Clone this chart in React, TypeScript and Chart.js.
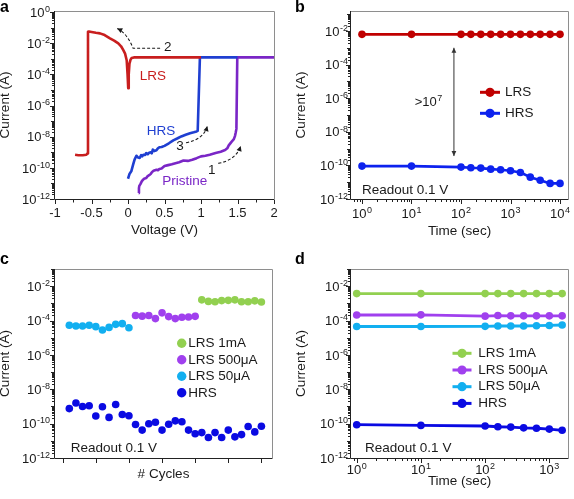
import React, { useEffect, useRef } from 'react';
import { Chart, registerables } from 'chart.js';

Chart.register(...registerables);

const FONT = "'Liberation Sans', Arial, Helvetica, sans-serif";
Chart.defaults.font.family = FONT;

// ---------------- Panel a : I–V sweeps ----------------
const lrsVoltage = [-0.725, -0.68, -0.62, -0.57, -0.555, -0.548, -0.535, -0.5, -0.44, -0.384, -0.32, -0.247, -0.19, -0.133, -0.095, -0.064, -0.04, -0.018, -0.006, 0.003, 0.01, 0.02, 0.035, 0.05, 0.08, 1.0];
const lrsCurrent = [7e-10, 6.5e-10, 6.5e-10, 7e-10, 8.5e-10, 5.5e-2, 5.8e-2, 5.4e-2, 4.8e-2, 4.4e-2, 3.4e-2, 2.1e-2, 1.5e-2, 1e-2, 6.5e-3, 3.7e-3, 2.2e-3, 8.3e-4, 1e-4, 1.3e-5, 1e-4, 5e-4, 9e-4, 1.15e-3, 1.25e-3, 1.25e-3];
const hrsVoltage = [0, 0.02, 0.045, 0.07, 0.09, 0.115, 0.14, 0.16, 0.18, 0.195, 0.21, 0.235, 0.25, 0.27, 0.29, 0.31, 0.325, 0.34, 0.36, 0.39, 0.41, 0.43, 0.46, 0.5, 0.56, 0.62, 0.68, 0.73, 0.79, 0.85, 0.9, 0.94, 0.955, 0.985, 1.5];
const hrsCurrent = [2e-11, 4e-11, 6e-11, 1.6e-10, 3.4e-10, 6e-10, 4.6e-10, 4.3e-10, 6.5e-10, 5.5e-10, 7e-10, 6.8e-10, 9e-10, 7.5e-10, 9.5e-10, 1e-9, 8.5e-10, 1.5e-9, 1.2e-9, 1.35e-9, 1.8e-9, 2.1e-9, 2.2e-9, 2.6e-9, 3.8e-9, 5.9e-9, 8e-9, 1.05e-8, 1.35e-8, 1.7e-8, 1.95e-8, 2.2e-8, 2.4e-8, 1.25e-3, 1.25e-3];
const pristineVoltage = [0.146, 0.15, 0.155, 0.17, 0.19, 0.205, 0.22, 0.25, 0.27, 0.29, 0.31, 0.33, 0.35, 0.37, 0.39, 0.41, 0.43, 0.46, 0.5, 0.55, 0.6, 0.65, 0.7, 0.76, 0.82, 0.88, 0.94, 1.0, 1.06, 1.12, 1.2, 1.27, 1.33, 1.36, 1.38, 1.41, 1.43, 1.45, 1.465, 1.475, 1.485, 1.497, 2.0];
const pristineCurrent = [2.4e-12, 5e-12, 7e-12, 9e-12, 1.4e-11, 1.7e-11, 2e-11, 2.2e-11, 3e-11, 3.4e-11, 4e-11, 5.5e-11, 6.5e-11, 7e-11, 7.5e-11, 7e-11, 8.5e-11, 9e-11, 1.3e-10, 1.5e-10, 1.7e-10, 2e-10, 2.3e-10, 3e-10, 2.8e-10, 3.3e-10, 4.2e-10, 5.5e-10, 6e-10, 7e-10, 9e-10, 1.1e-9, 1.4e-9, 1.8e-9, 2.8e-9, 4.2e-9, 5.5e-9, 7e-9, 1.1e-8, 1.8e-8, 3.2e-8, 1.25e-3, 1.25e-3];
const voltageTicksA = [-1, -0.5, 0, 0.5, 1, 1.5, 2];
const voltageMinorTicksA = [-0.75, -0.25, 0.25, 0.75, 1.25, 1.75];
const currentTicksA = [1e-12, 1e-10, 1e-8, 1e-6, 1e-4, 1e-2, 1];

// ---------------- Panel b : retention ----------------
const timeB = [1, 10, 100, 158, 251, 398, 631, 1000, 1585, 2512, 3981, 6310, 10000];
const lrsB = [6.3e-3, 6.3e-3, 6.3e-3, 6.3e-3, 6.3e-3, 6.3e-3, 6.3e-3, 6.3e-3, 6.3e-3, 6.3e-3, 6.3e-3, 6.3e-3, 6.3e-3];
const hrsB = [9.1e-11, 9.1e-11, 7.9e-11, 7.2e-11, 6.9e-11, 6e-11, 5.5e-11, 4.8e-11, 3.8e-11, 2e-11, 1.3e-11, 8.5e-12, 8.5e-12];
const timeTicksB = [1, 10, 100, 1000, 10000];
const currentTicksBCD = [1e-12, 1e-10, 1e-8, 1e-6, 1e-4, 1e-2];

// ---------------- Panel c : cycling ----------------
const cycles1mA = [21, 22, 23, 24, 25, 26, 27, 28, 29, 30];
const lrs1mAC = [1.6e-3, 1.3e-3, 1.25e-3, 1.45e-3, 1.5e-3, 1.6e-3, 1.25e-3, 1.25e-3, 1.4e-3, 1.2e-3];
const cycles500uA = [11, 12, 13, 14, 15, 16, 17, 18, 19, 20];
const lrs500uAC = [1.95e-4, 1.8e-4, 1.95e-4, 1.3e-4, 2.8e-4, 1.7e-4, 1.3e-4, 1.55e-4, 1.6e-4, 1.75e-4];
const cycles50uA = [1, 2, 3, 4, 5, 6, 7, 8, 9, 10];
const lrs50uAC = [5.3e-5, 4.8e-5, 4.8e-5, 5.3e-5, 4.4e-5, 2.8e-5, 4e-5, 6e-5, 6.6e-5, 3.8e-5];
const cyclesHrs = [1, 2, 3, 4, 5, 6, 7, 8, 9, 10, 11, 12, 13, 14, 15, 16, 17, 18, 19, 20, 21, 22, 23, 24, 25, 26, 27, 28, 29, 30];
const hrsC = [7.5e-10, 1.6e-9, 1e-9, 1.1e-9, 2.8e-10, 9.6e-10, 2.3e-10, 1.3e-9, 3.4e-10, 2.9e-10, 8.9e-11, 4.2e-11, 9.8e-11, 1.2e-10, 4.2e-11, 9.3e-11, 1.45e-10, 1.3e-10, 4.2e-11, 2.6e-11, 3e-11, 1.55e-11, 3e-11, 1.55e-11, 4.2e-11, 1.7e-11, 2.3e-11, 6.8e-11, 3.3e-11, 7.1e-11];
const cycleTicksC = [0, 5, 10, 15, 20, 25, 30];

// ---------------- Panel d : retention per compliance ----------------
const timeD = [1, 10, 100, 158, 251, 398, 631, 1000, 1585];
const lrs1mAD = [3.7e-3, 3.7e-3, 3.7e-3, 3.7e-3, 3.7e-3, 3.7e-3, 3.7e-3, 3.7e-3, 3.7e-3];
const lrs500uAD = [2.1e-4, 2.15e-4, 1.8e-4, 1.95e-4, 1.87e-4, 1.87e-4, 1.87e-4, 1.87e-4, 1.87e-4];
const lrs50uAD = [4.5e-5, 4.5e-5, 4.6e-5, 4.8e-5, 4.8e-5, 4.8e-5, 5e-5, 5.2e-5, 5.5e-5];
const hrsD = [8.7e-11, 7.9e-11, 7.3e-11, 6.6e-11, 6.3e-11, 5.7e-11, 5.4e-11, 4.8e-11, 4.1e-11];
const timeTicksD = [1, 10, 100, 1000];

// ---------------- colours ----------------
const RED_A = '#c81e1e';
const BLUE_A = '#1f3fd1';
const PURPLE_A = '#7a26c6';
const RED_B = '#c00000';
const BLUE_B = '#0d22ee';
const GREEN = '#92d050';
const PURPLE = '#a040ee';
const CYAN = '#12aff0';
const HRS_BLUE = '#0a0ae2';
const INK = '#1a1a1a';

// ---------------- helpers ----------------
const sameLog = (a: number, b: number) => Math.abs(Math.log10(a) - Math.log10(b)) < 1e-6;
const expOf = (v: number) => String(Math.round(Math.log10(v)));
const pts = (xs: number[], ys: number[]) => xs.map((x, i) => ({ x, y: ys[i] }));

function logTickList(min: number, max: number, labeled: number[]) {
  const out: any[] = [];
  for (let e = Math.floor(Math.log10(min)) - 1; e <= Math.ceil(Math.log10(max)); e++) {
    for (let m = 1; m <= 9; m++) {
      const v = m * Math.pow(10, e);
      if (v < min * 0.999999 || v > max * 1.000001) continue;
      const lab = labeled.some((l) => sameLog(l, v));
      out.push({ value: v, lab, len: lab ? 4 : m === 1 ? 3 : 2 });
    }
  }
  return out;
}

const tickFont = { family: FONT, size: 13 };
const titleFont = { family: FONT, size: 13.5, lineHeight: 1 };

function yLogAxis(min: number, max: number, labeled: number[], width: number, titlePadTop: number) {
  return {
    type: 'logarithmic',
    position: 'left',
    min,
    max,
    afterBuildTicks: (s: any) => {
      s.ticks = logTickList(min, max, labeled);
    },
    afterFit: (s: any) => {
      s.width = width;
      s.paddingTop = 0;
      s.paddingBottom = 0;
    },
    grid: { display: false, drawTicks: false },
    border: { display: false },
    // labels "10^n" are drawn with a real superscript by the decor plugin
    ticks: { display: false, autoSkip: false, font: tickFont },
    title: { display: true, text: 'Current (A)', font: titleFont, color: INK, padding: { top: titlePadTop, bottom: 0 } },
  };
}

function xLogAxis(min: number, max: number, labeled: number[], height: number, titlePadBottom: number) {
  return {
    type: 'logarithmic',
    position: 'bottom',
    min,
    max,
    afterBuildTicks: (s: any) => {
      s.ticks = logTickList(min, max, labeled);
    },
    afterFit: (s: any) => {
      s.height = height;
      s.paddingLeft = 0;
      s.paddingRight = 0;
    },
    grid: { display: false, drawTicks: false },
    border: { display: false },
    ticks: { display: false, autoSkip: false, maxRotation: 0, minRotation: 0, font: tickFont },
    title: { display: true, text: 'Time (sec)', font: titleFont, color: INK, padding: { top: 0, bottom: titlePadBottom } },
  };
}

// draws base text + raised smaller exponent; returns nothing
function drawSup(ctx: CanvasRenderingContext2D, base: string, sup: string, x: number, baseY: number, align: string, size = 13) {
  const supSize = Math.round(size * 0.7);
  ctx.font = `${size}px ${FONT}`;
  const w1 = ctx.measureText(base).width;
  ctx.font = `${supSize}px ${FONT}`;
  const w2 = ctx.measureText(sup).width;
  const total = w1 + w2 + 0.5;
  const x0 = align === 'right' ? x - total : align === 'left' ? x : x - total / 2;
  ctx.textAlign = 'left';
  ctx.textBaseline = 'alphabetic';
  ctx.font = `${size}px ${FONT}`;
  ctx.fillText(base, x0, baseY);
  ctx.font = `${supSize}px ${FONT}`;
  ctx.fillText(sup, x0 + w1 + 0.5, baseY - size * 0.38);
}

function arrowHead(ctx: CanvasRenderingContext2D, tip: number[], from: number[], len: number, half: number) {
  const a = Math.atan2(tip[1] - from[1], tip[0] - from[0]);
  ctx.beginPath();
  ctx.moveTo(tip[0], tip[1]);
  ctx.lineTo(tip[0] - len * Math.cos(a) + half * Math.sin(a), tip[1] - len * Math.sin(a) - half * Math.cos(a));
  ctx.lineTo(tip[0] - len * Math.cos(a) - half * Math.sin(a), tip[1] - len * Math.sin(a) + half * Math.cos(a));
  ctx.closePath();
  ctx.fill();
}

const decorPlugin = {
  id: 'decor',
  afterDraw(chart: any, _args: any, o: any) {
    const ctx: CanvasRenderingContext2D = chart.ctx;
    const { left, right, top, bottom } = chart.chartArea;
    const xs = chart.scales.x;
    const ys = chart.scales.y;
    ctx.save();
    // frame
    ctx.lineWidth = 1;
    ctx.strokeStyle = '#8e8e8e';
    ctx.beginPath();
    ctx.moveTo(left, top + 0.5);
    ctx.lineTo(right + 0.5, top + 0.5);
    ctx.lineTo(right + 0.5, bottom);
    ctx.stroke();
    ctx.strokeStyle = '#222';
    ctx.beginPath();
    ctx.moveTo(left - 0.5, top);
    ctx.lineTo(left - 0.5, bottom + 0.5);
    ctx.lineTo(right + 0.5, bottom + 0.5);
    ctx.stroke();
    // tick marks (outward)
    ctx.beginPath();
    for (const t of xs.ticks) {
      const px = Math.round(xs.getPixelForValue(t.value)) + 0.5;
      ctx.moveTo(px, bottom + 1);
      ctx.lineTo(px, bottom + 1 + (t.len || 3));
    }
    for (const t of ys.ticks) {
      const py = Math.round(ys.getPixelForValue(t.value)) + 0.5;
      ctx.moveTo(left - 1, py);
      ctx.lineTo(left - 1 - (t.len || 3), py);
    }
    ctx.stroke();

    // power-of-ten tick labels
    ctx.fillStyle = INK;
    if (ys.type === 'logarithmic') {
      for (const t of ys.ticks) {
        if (!t.lab) continue;
        const py = ys.getPixelForValue(t.value);
        drawSup(ctx, '10', expOf(t.value), left - (o.yPad || 3), py + 4.7, 'right');
      }
    }
    if (xs.type === 'logarithmic') {
      for (const t of xs.ticks) {
        if (!t.lab) continue;
        const px = xs.getPixelForValue(t.value);
        drawSup(ctx, '10', expOf(t.value), px, bottom + (o.xDy || 18), 'center');
      }
    }

    const P = (p: number[]) => [xs.getPixelForValue(p[0]), ys.getPixelForValue(p[1])];

    // arrows
    for (const a of o.arrows || []) {
      ctx.strokeStyle = a.color || INK;
      ctx.fillStyle = a.color || INK;
      ctx.lineWidth = a.width || 1.1;
      ctx.setLineDash(a.dash || []);
      const s = P(a.from);
      ctx.beginPath();
      ctx.moveTo(s[0], s[1]);
      let prev = s;
      let lastCtrl = s;
      let firstNext: number[] | null = null;
      for (const seg of a.segs) {
        const e = P(seg.to);
        if (seg.c) {
          const c = P(seg.c);
          ctx.quadraticCurveTo(c[0], c[1], e[0], e[1]);
          lastCtrl = c;
          if (!firstNext) firstNext = c;
        } else {
          ctx.lineTo(e[0], e[1]);
          lastCtrl = prev;
          if (!firstNext) firstNext = e;
        }
        prev = e;
      }
      ctx.stroke();
      ctx.setLineDash([]);
      arrowHead(ctx, prev, lastCtrl, a.head || 5, a.half || 2.6);
      if (a.both && firstNext) arrowHead(ctx, s, firstNext, a.head || 5, a.half || 2.6);
    }

    // texts in data coordinates
    for (const t of o.texts || []) {
      const p = P([t.x, t.y]);
      ctx.fillStyle = t.color || INK;
      if (t.sup) {
        drawSup(ctx, t.text, t.sup, p[0], p[1] + 4.7, t.align || 'center', t.size || 13.5);
        continue;
      }
      ctx.font = `${t.size || 13.5}px ${FONT}`;
      ctx.textAlign = t.align || 'center';
      ctx.textBaseline = 'middle';
      ctx.fillText(t.text, p[0], p[1]);
    }

    // legend from the datasets
    if (o.legend) {
      const L = o.legend;
      chart.data.datasets.forEach((ds: any, i: number) => {
        const cx = left + L.x;
        const cy = top + L.y + i * L.step;
        if (L.line) {
          ctx.strokeStyle = ds.borderColor;
          ctx.lineWidth = 3;
          ctx.beginPath();
          ctx.moveTo(cx - L.half, cy);
          ctx.lineTo(cx + L.half, cy);
          ctx.stroke();
        }
        ctx.fillStyle = ds.pointBackgroundColor || ds.backgroundColor;
        ctx.beginPath();
        ctx.arc(cx, cy, L.r, 0, Math.PI * 2);
        ctx.fill();
        ctx.font = `13.5px ${FONT}`;
        ctx.fillStyle = INK;
        ctx.textAlign = 'left';
        ctx.textBaseline = 'middle';
        ctx.fillText(ds.label, left + L.tx, cy);
      });
    }

    // panel letter
    if (o.letter) {
      ctx.font = `bold 16px ${FONT}`;
      ctx.fillStyle = '#000';
      ctx.textAlign = 'left';
      ctx.textBaseline = 'alphabetic';
      ctx.fillText(o.letter.text, o.letter.x, o.letter.y);
    }
    ctx.restore();
  },
};

const baseOptions = {
  animation: false,
  responsive: false,
  devicePixelRatio: 1,
  events: [],
};

function lineSet(label: string, data: any[], color: string, width: number, radius: number) {
  return {
    label,
    data,
    borderColor: color,
    backgroundColor: color,
    pointBackgroundColor: color,
    pointBorderWidth: 0,
    borderWidth: width,
    pointRadius: radius,
    pointHoverRadius: radius,
    tension: 0,
    borderJoinStyle: 'round',
  };
}

function configA(): any {
  return {
    type: 'line',
    data: {
      datasets: [
        lineSet('LRS', pts(lrsVoltage, lrsCurrent), RED_A, 2.6, 0),
        lineSet('HRS', pts(hrsVoltage, hrsCurrent), BLUE_A, 2.6, 0),
        lineSet('Pristine', pts(pristineVoltage, pristineCurrent), PURPLE_A, 2.6, 0),
      ],
    },
    options: {
      ...baseOptions,
      layout: { padding: { left: 0, top: 11, right: 13, bottom: 0 } },
      plugins: {
        legend: { display: false },
        tooltip: { enabled: false },
        decor: {
          yPad: 5,
          letter: { text: 'a', x: 0, y: 12 },
          texts: [
            { x: 0.342, y: 7.9e-5, text: 'LRS', color: RED_A },
            { x: 0.452, y: 2.4e-8, text: 'HRS', color: BLUE_A },
            { x: 0.777, y: 1.3e-11, text: 'Pristine', color: PURPLE_A },
            { x: 1.147, y: 7.2e-11, text: '1' },
            { x: 0.544, y: 6e-3, text: '2' },
            { x: 0.712, y: 2.3e-9, text: '3' },
          ],
          arrows: [
            { from: [0.44, 4.8e-3], segs: [{ to: [0.07, 4.8e-3] }, { c: [-0.014, 4.6e-2], to: [-0.147, 9.1e-2] }], dash: [3, 2] },
            { from: [1.237, 1.95e-10], segs: [{ c: [1.479, 3.2e-10], to: [1.544, 2.5e-9] }], dash: [3, 2] },
            { from: [0.795, 4.1e-9], segs: [{ c: [1.041, 7.1e-9], to: [1.086, 4.8e-8] }], dash: [3, 2] },
          ],
        },
      },
      scales: {
        x: {
          type: 'linear',
          min: -1,
          max: 2,
          afterBuildTicks: (s: any) => {
            s.ticks = [
              ...voltageTicksA.map((v) => ({ value: v, len: 4 })),
              ...voltageMinorTicksA.map((v) => ({ value: v, len: 2.5 })),
            ].sort((p, q) => p.value - q.value);
          },
          afterFit: (s: any) => {
            s.height = 51;
            s.paddingLeft = 0;
            s.paddingRight = 0;
          },
          grid: { display: false, drawTicks: false },
          border: { display: false },
          ticks: {
            autoSkip: false,
            maxRotation: 0,
            minRotation: 0,
            padding: 6.5,
            font: tickFont,
            color: INK,
            callback: (v: number) => (voltageTicksA.some((t) => Math.abs(t - v) < 1e-9) ? String(v) : ''),
          },
          title: { display: true, text: 'Voltage (V)', font: titleFont, color: INK, padding: { top: 0, bottom: 13.25 } },
        },
        y: yLogAxis(1e-12, 1.2, currentTicksA, 55, -1.75),
      },
    },
    plugins: [decorPlugin],
  };
}

function configB(): any {
  return {
    type: 'line',
    data: {
      datasets: [
        lineSet('LRS', pts(timeB, lrsB), RED_B, 2.6, 3.8),
        lineSet('HRS', pts(timeB, hrsB), BLUE_B, 2.6, 3.8),
      ],
    },
    options: {
      ...baseOptions,
      layout: { padding: { left: 0, top: 11, right: 6, bottom: 0 } },
      plugins: {
        legend: { display: false },
        tooltip: { enabled: false },
        decor: {
          yPad: 3,
          xDy: 18.8,
          letter: { text: 'b', x: 8, y: 12 },
          texts: [
            { x: 22, y: 6.2e-7, text: '>10', sup: '7', size: 13 },
            { x: 1, y: 3.1e-12, text: 'Readout 0.1 V', align: 'left' },
          ],
          arrows: [{ from: [72, 1e-3], segs: [{ to: [72, 3.6e-10] }], both: true, color: '#333', width: 1, head: 5, half: 2.4 }],
          legend: { x: 139, y: 81.3, step: 21, line: true, half: 10, r: 4.6, tx: 154 },
        },
      },
      scales: {
        x: xLogAxis(0.63, 14500, timeTicksB, 51, 11.75),
        y: yLogAxis(1e-12, 0.155, currentTicksBCD, 64, 8),
      },
    },
    plugins: [decorPlugin],
  };
}

function configC(): any {
  return {
    type: 'scatter',
    data: {
      datasets: [
        lineSet('LRS 1mA', pts(cycles1mA, lrs1mAC), GREEN, 0, 3.8),
        lineSet('LRS 500μA', pts(cycles500uA, lrs500uAC), PURPLE, 0, 3.8),
        lineSet('LRS 50μA', pts(cycles50uA, lrs50uAC), CYAN, 0, 3.8),
        lineSet('HRS', pts(cyclesHrs, hrsC), HRS_BLUE, 0, 3.8),
      ],
    },
    options: {
      ...baseOptions,
      layout: { padding: { left: 0, top: 19, right: 15, bottom: 0 } },
      plugins: {
        legend: { display: false },
        tooltip: { enabled: false },
        decor: {
          yPad: 5,
          letter: { text: 'c', x: 0, y: 14 },
          texts: [{ x: 1.2, y: 3.6e-12, text: 'Readout 0.1 V', align: 'left' }],
          legend: { x: 126.7, y: 74.3, step: 16.5, line: false, r: 4.7, tx: 133.3 },
        },
      },
      scales: {
        x: {
          type: 'linear',
          min: -1.16,
          max: 31.6,
          afterBuildTicks: (s: any) => {
            s.ticks = cycleTicksC.map((v) => ({ value: v, len: 4 }));
          },
          afterFit: (s: any) => {
            s.height = 41;
            s.paddingLeft = 0;
            s.paddingRight = 0;
          },
          grid: { display: false, drawTicks: false },
          border: { display: false },
          ticks: { autoSkip: false, maxRotation: 0, minRotation: 0, font: tickFont, callback: () => '' },
          title: { display: true, text: '# Cycles', font: titleFont, color: INK, padding: { top: 0, bottom: 18 } },
        },
        y: yLogAxis(1e-12, 0.1, currentTicksBCD, 55, -1.75),
      },
    },
    plugins: [decorPlugin],
  };
}

function configD(): any {
  return {
    type: 'line',
    data: {
      datasets: [
        lineSet('LRS 1mA', pts(timeD, lrs1mAD), GREEN, 2.8, 3.8),
        lineSet('LRS 500μA', pts(timeD, lrs500uAD), PURPLE, 2.8, 3.8),
        lineSet('LRS 50μA', pts(timeD, lrs50uAD), CYAN, 2.8, 3.8),
        lineSet('HRS', pts(timeD, hrsD), HRS_BLUE, 2.8, 3.8),
      ],
    },
    options: {
      ...baseOptions,
      layout: { padding: { left: 0, top: 19, right: 6, bottom: 0 } },
      plugins: {
        legend: { display: false },
        tooltip: { enabled: false },
        decor: {
          yPad: 3,
          xDy: 15.5,
          letter: { text: 'd', x: 8, y: 14 },
          texts: [{ x: 1.35, y: 3.6e-12, text: 'Readout 0.1 V', align: 'left' }],
          legend: { x: 111, y: 84.3, step: 16.7, line: true, half: 9.5, r: 4.6, tx: 127.3 },
        },
      },
      scales: {
        x: xLogAxis(0.815, 1954, timeTicksD, 41, 10.5),
        y: yLogAxis(1e-12, 0.1, currentTicksBCD, 64, 8),
      },
    },
    plugins: [decorPlugin],
  };
}

function Panel({ make, left, top, width, height }: { make: () => any; left: number; top: number; width: number; height: number }) {
  const ref = useRef<HTMLCanvasElement>(null);
  useEffect(() => {
    const chart = new Chart(ref.current as HTMLCanvasElement, make());
    return () => chart.destroy();
  }, []);
  return <canvas ref={ref} width={width} height={height} style={{ position: 'absolute', left, top, width, height }} />;
}

export default function App() {
  return (
    <div style={{ position: 'absolute', left: 0, top: 0, width: 574, height: 499, background: '#fff', overflow: 'hidden' }}>
      <Panel make={configA} left={0} top={0} width={287} height={250} />
      <Panel make={configB} left={287} top={0} width={287} height={250} />
      <Panel make={configC} left={0} top={250} width={287} height={249} />
      <Panel make={configD} left={287} top={250} width={287} height={249} />
    </div>
  );
}
